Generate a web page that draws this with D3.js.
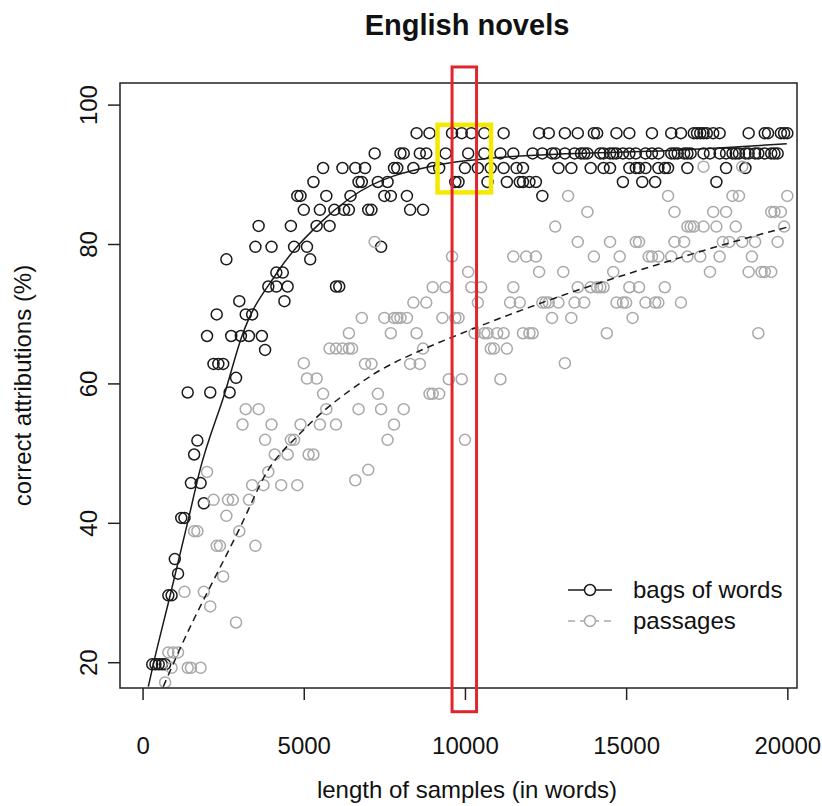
<!DOCTYPE html>
<html>
<head>
<meta charset="utf-8">
<script src="https://cdn.jsdelivr.net/npm/d3@7"></script>
<style>
body { margin: 0; background: #fff; }
svg { font-family: "Liberation Sans", Arial, Helvetica, sans-serif; }
</style>
</head>
<body>
<svg id="chart" width="822" height="806"></svg>
<script>
// tick labels
let xTicks = [0, 5000, 10000, 15000, 20000];
let yTicks = [20, 40, 60, 80, 100];
let legendLabels = ["bags of words", "passages"];

// bags of words: [length in words, % correct]
let bags = [
    [300,19.7],[400,19.7],[500,19.7],[600,19.7],[700,19.7],
    [800,29.6],[900,29.6],[1000,34.8],[1100,32.7],[1200,40.7],[1300,40.7],
    [1500,45.7],[1800,45.7],[1900,42.8],[1600,49.8],[1700,51.8],
    [1400,58.7],[2100,58.7],[2700,58.7],[2900,60.8],
    [2200,62.8],[2350,62.8],[2500,62.8],[3800,64.8],
    [2000,66.8],[2750,66.8],[3050,66.8],[3300,66.8],[3700,66.8],
    [2300,69.9],[3200,69.9],[3400,69.9],[3000,71.8],[4400,71.8],
    [3900,73.9],[4150,73.9],[4500,73.9],[6000,73.9],[6100,73.9],
    [4150,75.9],[4350,75.9],[2600,77.8],[5200,77.8],
    [3500,79.6],[4000,79.6],[4700,79.6],[5100,79.6],[7400,79.6],
    [3600,82.6],[4600,82.6],[5400,82.6],[5800,82.6],
    [5000,84.9],[5500,84.9],[5950,84.9],[6250,84.9],[6400,84.9],[7000,84.9],[7100,84.9],[8300,84.9],[8700,84.9],
    [4800,86.9],[4900,86.9],[5700,86.9],[6450,86.9],[7500,86.9],[7700,86.9],[8200,86.9],[12400,86.9],
    [5300,88.9],[6700,88.9],[6800,88.9],[7300,88.9],[7600,88.9],[9700,88.9],[9800,88.9],[10700,88.9],
    [11300,88.9],[11700,88.9],[11800,88.9],[12000,88.9],[12200,88.9],[14900,88.9],[15500,88.9],[15900,88.9],[17800,88.9],
    [5600,90.9],[6200,90.9],[6600,90.9],[6900,90.9],[7800,90.9],[7900,90.9],[8400,90.9],[9000,90.9],[9200,90.9],
    [10000,90.9],[10400,90.9],[10800,90.9],[11200,90.9],[11600,90.9],[11800,90.9],[12900,90.9],[13300,90.9],
    [13900,90.9],[14300,90.9],[14500,90.9],[15100,90.9],[15300,90.9],[15400,90.9],[15600,90.9],[16000,90.9],
    [16200,90.9],[16300,90.9],[16900,90.9],[18100,90.9],[18700,90.9],
    [7200,93.0],[8000,93.0],[8100,93.0],[8600,93.0],[8800,93.0],[9400,93.0],[10100,93.0],[10600,93.0],[11100,93.0],
    [11500,93.0],[12100,93.0],[12400,93.0],[12700,93.0],[12800,93.0],[13100,93.0],[13400,93.0],[13600,93.0],
    [13700,93.0],[13800,93.0],[14200,93.0],[14300,93.0],[14500,93.0],[14600,93.0],[14700,93.0],[14900,93.0],
    [15100,93.0],[15300,93.0],[15600,93.0],[15800,93.0],[16000,93.0],[16400,93.0],[16500,93.0],[16600,93.0],
    [16800,93.0],[16900,93.0],[17000,93.0],[17400,93.0],[17600,93.0],[17900,93.0],[18100,93.0],[18300,93.0],
    [18400,93.0],[18500,93.0],[18700,93.0],[18800,93.0],[19000,93.0],[19100,93.0],[19300,93.0],[19500,93.0],
    [19600,93.0],[19700,93.0],
    [8500,95.9],[8900,95.9],[9600,95.9],[9900,95.9],[10200,95.9],[10600,95.9],[11200,95.9],[12300,95.9],
    [12600,95.9],[13100,95.9],[13500,95.9],[14000,95.9],[14100,95.9],[14700,95.9],[15100,95.9],[15800,95.9],
    [16400,95.9],[16700,95.9],[17100,95.9],[17200,95.9],[17300,95.9],[17400,95.9],[17500,95.9],[17700,95.9],
    [17900,95.9],[18800,95.9],[19300,95.9],[19400,95.9],[19800,95.9],[19900,95.9],[20000,95.9]
];

// passages: [length in words, % correct]
let passages = [
    [700,17.1],[900,19.2],[1400,19.2],[1500,19.2],[1800,19.2],[800,21.4],[950,21.4],[1100,21.4],
    [2900,25.7],[2100,28.0],[1300,30.1],[1900,30.1],[2500,32.3],
    [2300,36.7],[2400,36.7],[3500,36.7],[1600,38.8],[1700,38.8],[3000,38.8],
    [2600,41.0],[2200,43.3],[2650,43.3],[2800,43.3],[3300,43.3],
    [3400,45.4],[3750,45.4],[4300,45.4],[4800,45.4],[2000,47.3],[3900,47.3],[6600,46.1],[7000,47.6],
    [4100,49.8],[4500,49.8],[5150,49.8],[5300,49.8],
    [3800,51.9],[4600,51.9],[4700,51.9],[7600,51.9],[10000,51.9],
    [3100,54.1],[4000,54.1],[4900,54.1],[5500,54.1],[6000,54.1],[7800,54.1],
    [3200,56.3],[3600,56.3],[5700,56.3],[6700,56.3],[7400,56.3],[8100,56.3],
    [5600,58.5],[7300,58.5],[8900,58.5],[9000,58.5],[9200,58.5],
    [5100,60.7],[5400,60.7],[9500,60.6],[9900,60.6],[11100,60.6],
    [5000,62.9],[6900,62.8],[7100,62.8],[8300,62.8],[8600,62.8],[13100,62.9],
    [5800,65.0],[6000,65.0],[6200,65.0],[6400,65.0],[6500,65.0],[8700,65.0],[10800,65.0],[10900,65.0],[11300,65.0],
    [6400,67.2],[7700,67.2],[8500,67.2],[10300,67.2],[10600,67.2],[10700,67.2],[11000,67.2],[11200,67.2],
    [11800,67.2],[12000,67.2],[12100,67.2],[14400,67.2],[19100,67.2],
    [6800,69.4],[7500,69.4],[7800,69.4],[7900,69.4],[8000,69.4],[8200,69.4],[9300,69.4],[9700,69.4],
    [9800,69.4],[12700,69.4],[13300,69.4],[15200,69.4],
    [8400,71.6],[8800,71.6],[10400,71.6],[11400,71.6],[11700,71.6],[12400,71.6],[12500,71.6],[12600,71.6],
    [12900,71.6],[13400,71.6],[13700,71.6],[14700,71.6],[14900,71.6],[15000,71.6],[15600,71.6],[15900,71.6],
    [16000,71.6],[16700,71.6],
    [9000,73.8],[9400,73.8],[10200,73.8],[10500,73.8],[11500,73.8],[13500,73.8],[13900,73.8],[14100,73.8],
    [14200,73.8],[14300,73.8],[15100,73.8],[15400,73.8],[16200,73.8],
    [10100,76.0],[12300,76.0],[13050,76.0],[14600,76.0],[17600,76.0],[18800,76.0],[19200,76.0],[19300,76.0],[19500,76.0],
    [9600,78.2],[11500,78.2],[11900,78.2],[12200,78.2],[14000,78.2],[14800,78.2],[15700,78.2],[15800,78.2],
    [16000,78.2],[16400,78.2],[16900,78.2],[17300,78.2],[17900,78.2],[18900,78.2],
    [7200,80.3],[13500,80.3],[14500,80.3],[15300,80.3],[15400,80.3],[16500,80.3],[16800,80.3],[18000,80.3],
    [18200,80.3],[18600,80.3],[19000,80.3],[19700,80.3],
    [12800,82.5],[16900,82.5],[17000,82.5],[17100,82.5],[17400,82.5],[17800,82.5],[18400,82.5],[19900,82.5],
    [13800,84.6],[16500,84.6],[17700,84.6],[18100,84.6],[19500,84.6],[19600,84.6],[19800,84.6],
    [13200,86.9],[16300,86.9],[18300,86.9],[18500,86.9],[20000,86.9],
    [17400,91.1],[18600,91.1]
];

// fitted curves
let bagsFitWords = [178, 333, 857, 1431, 1782, 2557, 3075, 4161, 5504, 6435, 9226, 10777, 12949, 16361, 18000, 19982];
let bagsFitPct   = [16.5, 19.7, 29.6, 40.7, 47.6, 58.7, 66.7, 75.8, 83.0, 86.6, 91.4, 92.3, 92.9, 93.4, 93.8, 94.4];
let passFitWords = [643, 1109, 2970, 3900, 4884, 5607, 6435, 7157, 8708, 9640, 12949, 16361, 18014, 19982];
let passFitPct   = [16.5, 21.4, 38.8, 47.6, 52.8, 56.0, 59.0, 61.3, 64.9, 66.7, 72.5, 77.6, 79.9, 82.4];

// highlight boxes in data units: [x0, x1, y0, y1]
let redBox = [9600, 10360, 12.9, 105.4];
let yellowBox = [9150, 10808, 87.4, 97.1];

let svg = d3.select("#chart");
let boxLeft = 120, boxRight = 797, boxTop = 83, boxBottom = 688;
let textCenter = 467;
let darkColor = "#1a1a1a";
let greyColor = "#a9a9a9";

let x = d3.scaleLinear()
    .domain([-700, 20300])
    .range([boxLeft, boxRight]);

let y = d3.scaleLinear()
    .domain([16.3, 103.1])
    .range([boxBottom, boxTop]);

svg.append("defs").append("clipPath")
    .attr("id", "plotClip")
    .append("rect")
    .attr("x", boxLeft)
    .attr("y", boxTop)
    .attr("width", boxRight - boxLeft)
    .attr("height", boxBottom - boxTop);

let plot = svg.append("g").attr("clip-path", "url(#plotClip)");

// points
plot.append("g").selectAll("circle")
    .data(bags)
    .enter().append("circle")
    .attr("cx", d => x(d[0]))
    .attr("cy", d => y(d[1]))
    .attr("r", 5.5)
    .style("fill", "none")
    .style("stroke", darkColor)
    .style("stroke-width", 1.5);

plot.append("g").selectAll("circle")
    .data(passages)
    .enter().append("circle")
    .attr("cx", d => x(d[0]))
    .attr("cy", d => y(d[1]))
    .attr("r", 5.5)
    .style("fill", "none")
    .style("stroke", greyColor)
    .style("stroke-width", 1.5);

// fitted lines
let fitLine = d3.line()
    .x(d => x(d[0]))
    .y(d => y(d[1]))
    .curve(d3.curveMonotoneX);

plot.append("path")
    .datum(d3.zip(bagsFitWords, bagsFitPct))
    .attr("fill", "none")
    .attr("stroke", darkColor)
    .attr("stroke-width", 1.5)
    .attr("d", fitLine);

plot.append("path")
    .datum(d3.zip(passFitWords, passFitPct))
    .attr("fill", "none")
    .attr("stroke", darkColor)
    .attr("stroke-width", 1.5)
    .attr("stroke-dasharray", "7,5")
    .attr("d", fitLine);

// frame
svg.append("rect")
    .attr("x", boxLeft)
    .attr("y", boxTop)
    .attr("width", boxRight - boxLeft)
    .attr("height", boxBottom - boxTop)
    .style("fill", "none")
    .style("stroke", "#222")
    .style("stroke-width", 1.5);

// axes
let xAxis = svg.append("g")
    .attr("transform", "translate(0," + boxBottom + ")")
    .call(d3.axisBottom(x).tickValues(xTicks).tickSize(12).tickPadding(0).tickFormat(d3.format("d")));
xAxis.select(".domain").remove();
xAxis.selectAll("line").style("stroke", "#222").style("stroke-width", 1.5);
xAxis.selectAll("text")
    .attr("y", 66)
    .attr("dy", 0)
    .style("font-size", "24px")
    .style("fill", "#111");

let yAxis = svg.append("g")
    .attr("transform", "translate(" + boxLeft + ",0)")
    .call(d3.axisLeft(y).tickValues(yTicks).tickSize(12));
yAxis.select(".domain").remove();
yAxis.selectAll("line").style("stroke", "#222").style("stroke-width", 1.5);
yAxis.selectAll("text")
    .attr("transform", "rotate(-90)")
    .attr("x", 0)
    .attr("y", -23)
    .attr("dy", 0)
    .style("text-anchor", "middle")
    .style("font-size", "24px")
    .style("fill", "#111");

// titles
svg.append("text")
    .attr("x", textCenter)
    .attr("y", 35)
    .attr("text-anchor", "middle")
    .style("font-size", "29px")
    .style("font-weight", "bold")
    .style("fill", "#111")
    .text("English novels");

svg.append("text")
    .attr("x", textCenter)
    .attr("y", 798)
    .attr("text-anchor", "middle")
    .style("font-size", "24px")
    .style("fill", "#111")
    .text("length of samples (in words)");

svg.append("text")
    .attr("transform", "translate(31," + (boxTop + boxBottom) / 2 + ") rotate(-90)")
    .attr("text-anchor", "middle")
    .style("font-size", "24px")
    .style("fill", "#111")
    .text("correct attributions (%)");

// legend
let legend = svg.append("g").attr("transform", "translate(568,590)");
legendLabels.forEach(function(label, i) {
    let color = i == 0 ? darkColor : greyColor;
    let row = legend.append("g").attr("transform", "translate(0," + (i * 31) + ")");
    row.append("line")
        .attr("x1", 0).attr("x2", 44)
        .attr("y1", 0).attr("y2", 0)
        .style("stroke", color)
        .style("stroke-width", 1.5)
        .style("stroke-dasharray", i == 0 ? null : "7,5");
    row.append("circle")
        .attr("cx", 22).attr("cy", 0).attr("r", 5.5)
        .style("fill", "#fff")
        .style("stroke", color)
        .style("stroke-width", 1.5);
    row.append("text")
        .attr("x", 65).attr("y", 8)
        .style("font-size", "24px")
        .style("fill", "#111")
        .text(label);
});

// highlight boxes
svg.append("rect")
    .attr("x", x(yellowBox[0]))
    .attr("y", y(yellowBox[3]))
    .attr("width", x(yellowBox[1]) - x(yellowBox[0]))
    .attr("height", y(yellowBox[2]) - y(yellowBox[3]))
    .style("fill", "none")
    .style("stroke", "#f5e900")
    .style("stroke-width", 4.5);

svg.append("rect")
    .attr("x", x(redBox[0]))
    .attr("y", y(redBox[3]))
    .attr("width", x(redBox[1]) - x(redBox[0]))
    .attr("height", y(redBox[2]) - y(redBox[3]))
    .style("fill", "none")
    .style("stroke", "#e0262c")
    .style("stroke-width", 3);
</script>
</body>
</html>
